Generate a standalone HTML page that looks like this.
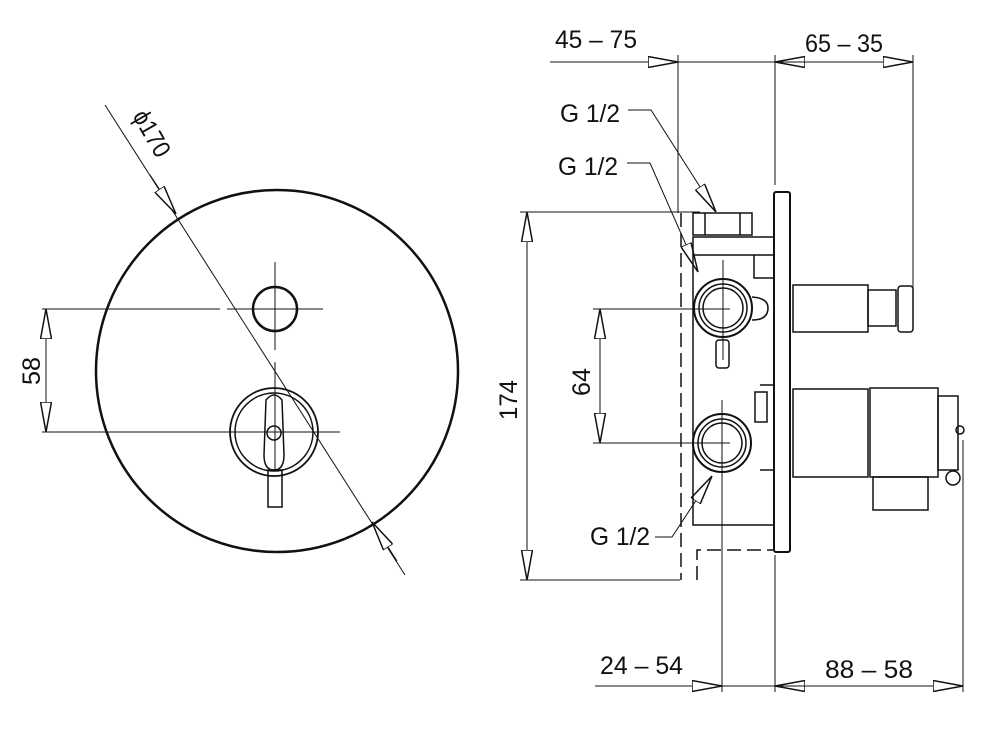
<!DOCTYPE html>
<html><head><meta charset="utf-8"><style>
html,body{margin:0;padding:0;background:#fff;}
svg{display:block;}
text{font-family:"Liberation Sans",sans-serif;font-size:25px;fill:#111;}
</style></head><body>
<svg width="1000" height="735" viewBox="0 0 1000 735" xmlns="http://www.w3.org/2000/svg">
<defs>
<marker id="a" viewBox="0 0 30 12" refX="30" refY="6" markerWidth="30" markerHeight="12" markerUnits="userSpaceOnUse" orient="auto-start-reverse">
<path d="M0,0.5 L30,6 L0,11.5 Z" fill="#fff" stroke="#111" stroke-width="1.5"/>
</marker>
</defs>
<g fill="none" stroke="#111">
<circle cx="277" cy="371" r="181" stroke-width="2.5"/>
<circle cx="275" cy="309" r="22" stroke-width="2.5"/>
<circle cx="274" cy="432" r="44" stroke-width="1.8"/>
<circle cx="274" cy="432" r="39" stroke-width="1.5"/>
<circle cx="274" cy="433" r="7" stroke-width="1.5"/>
<path d="M266,400 Q274,390 282,400 L284,455 Q284,470 274,470 Q264,470 264,455 Z" stroke-width="1.5"/>
<rect x="268" y="470" width="14" height="37" stroke-width="1.5"/>
<g stroke-width="1">
<line x1="275" y1="262" x2="275" y2="350"/>
<line x1="275" y1="362" x2="275" y2="470"/>
<line x1="42" y1="309" x2="220" y2="309"/>
<line x1="227" y1="309" x2="323" y2="309"/>
<line x1="42" y1="432" x2="340" y2="432"/>
<line x1="105" y1="105" x2="405" y2="575"/>
<line x1="150" y1="175" x2="176" y2="214" marker-end="url(#a)"/>
<line x1="397" y1="561" x2="372" y2="522" marker-end="url(#a)"/>
<line x1="46" y1="309" x2="46" y2="432" marker-start="url(#a)" marker-end="url(#a)"/>
</g>
<g stroke-width="1">
<line x1="550" y1="62" x2="678" y2="62" marker-end="url(#a)"/>
<line x1="678" y1="62" x2="775" y2="62"/>
<line x1="913" y1="62" x2="775" y2="62" marker-end="url(#a)"/>
<line x1="775" y1="62" x2="913" y2="62" marker-end="url(#a)"/>
<line x1="678" y1="55" x2="678" y2="213"/>
<line x1="775" y1="55" x2="775" y2="185"/>
<line x1="913" y1="55" x2="913" y2="288"/>
<line x1="520" y1="212" x2="700" y2="212"/>
<line x1="520" y1="580" x2="680" y2="580"/>
<line x1="527" y1="212" x2="527" y2="580" marker-start="url(#a)" marker-end="url(#a)"/>
<line x1="593" y1="309" x2="730" y2="309"/>
<line x1="593" y1="443" x2="730" y2="443"/>
<line x1="600" y1="309" x2="600" y2="443" marker-start="url(#a)" marker-end="url(#a)"/>
<line x1="595" y1="686" x2="722" y2="686" marker-end="url(#a)"/>
<line x1="722" y1="686" x2="775" y2="686"/>
<line x1="963" y1="686" x2="775" y2="686" marker-end="url(#a)"/>
<line x1="775" y1="686" x2="963" y2="686" marker-end="url(#a)"/>
<line x1="722" y1="470" x2="722" y2="692"/>
<line x1="775" y1="555" x2="775" y2="692"/>
<line x1="963" y1="440" x2="963" y2="692"/>
<line x1="723" y1="260" x2="723" y2="360"/>
<line x1="722" y1="400" x2="722" y2="470"/>
<polyline points="628,110 651,110 716,212" marker-end="url(#a)"/>
<polyline points="627,163 650,163 698,272" marker-end="url(#a)"/>
<polyline points="655,537 672,537 712,476" marker-end="url(#a)"/>
</g>
<g stroke-width="1.5" stroke-dasharray="14,6">
<line x1="681" y1="213" x2="681" y2="580"/>
<polyline points="697,580 697,550 773,550"/>
</g>
<g stroke-width="1.5">
<rect x="774" y="192" width="16" height="360" rx="2" stroke-width="2"/>
<rect x="693" y="213" width="59" height="22"/>
<line x1="705" y1="213" x2="705" y2="235"/><line x1="740" y1="213" x2="740" y2="235"/>
<rect x="693" y="237" width="81" height="18"/>
<polyline points="693,255 693,525 774,525"/>
<polyline points="754,255 754,278 774,278"/>
<circle cx="723" cy="308" r="29" stroke-width="2"/>
<circle cx="723" cy="308" r="24"/>
<circle cx="723" cy="308" r="20"/>
<path d="M752,297 Q768,298 768,308 Q768,320 752,320"/>
<rect x="716" y="340" width="13" height="28" rx="3"/>
<circle cx="722" cy="443" r="29" stroke-width="2"/>
<circle cx="722" cy="443" r="24"/>
<circle cx="722" cy="443" r="20"/>
<path d="M760,385 L774,385 L774,470 L760,470"/>
<rect x="755" y="392" width="12" height="30"/>
<rect x="793" y="285" width="75" height="47"/>
<rect x="868" y="290" width="28" height="36"/>
<rect x="898" y="286" width="15" height="46" rx="3"/>
<rect x="793" y="389" width="75" height="88"/>
<rect x="870" y="388" width="68" height="89"/>
<rect x="938" y="396" width="20" height="74"/>
<circle cx="953" cy="478" r="7"/>
<circle cx="960" cy="430" r="4"/>
<rect x="873" y="477" width="55" height="33"/>
</g>
</g>
<text x="555" y="48" textLength="82" lengthAdjust="spacingAndGlyphs">45 – 75</text>
<text x="805" y="52" textLength="78" lengthAdjust="spacingAndGlyphs">65 – 35</text>
<text x="560" y="122" textLength="60" lengthAdjust="spacingAndGlyphs">G 1/2</text>
<text x="558" y="175" textLength="60" lengthAdjust="spacingAndGlyphs">G 1/2</text>
<text x="590" y="545" textLength="60" lengthAdjust="spacingAndGlyphs">G 1/2</text>
<text x="600" y="674" textLength="83" lengthAdjust="spacingAndGlyphs">24 – 54</text>
<text x="825" y="678" textLength="88" lengthAdjust="spacingAndGlyphs">88 – 58</text>
<text transform="translate(40,385) rotate(-90)" textLength="28" lengthAdjust="spacingAndGlyphs">58</text>
<text transform="translate(517,420) rotate(-90)" textLength="40" lengthAdjust="spacingAndGlyphs">174</text>
<text transform="translate(590,396) rotate(-90)" textLength="28" lengthAdjust="spacingAndGlyphs">64</text>
<text transform="translate(132,116) rotate(60)" textLength="50" lengthAdjust="spacingAndGlyphs">ϕ170</text>
</svg>
</body></html>
